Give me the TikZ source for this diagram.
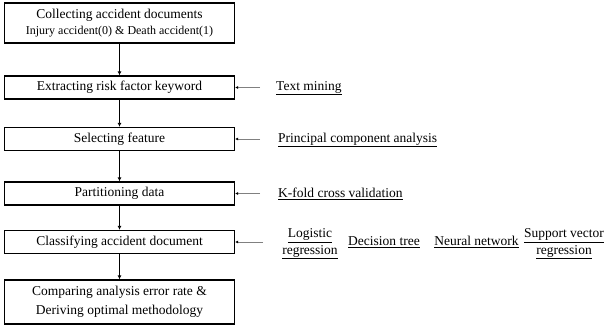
\documentclass[tikz,border=0pt]{standalone}
\usepackage{fontspec}
\setmainfont{Liberation Serif}
\usetikzlibrary{positioning,arrows.meta}

\begin{document}
\begin{tikzpicture}[x=1pt,y=1pt,
    box/.style={draw,line width=1.2pt,minimum width=230pt,minimum height=23pt,
      inner sep=2pt,align=center,font=\rmfamily\fontsize{13.5}{18.5}\selectfont},
    flow/.style={line width=1.5pt,-{Latex[length=4pt,width=4pt]}},
    side/.style={gray,line width=0.8pt,-{Latex[black,length=3pt,width=3pt]}},
    lbl/.style={inner sep=0pt,align=center,font=\rmfamily\fontsize{13.5}{16.5}\selectfont}]
    \useasboundingbox (0,0) rectangle (605,-326);

    % Main steps
    \node[box,minimum height=40pt] (collect) at (119.5,-23)
      {Collecting accident documents\\[-3pt]{\fontsize{12}{14}\selectfont Injury accident(0) \& Death accident(1)}};
    \node[box] (extract) at (119.5,-87.5) {Extracting risk factor keyword};
    \node[box] (select) at (119.5,-139) {Selecting feature};
    \node[box] (partition) at (119.5,-193.5) {Partitioning data};
    \node[box] (classify) at (119.5,-242) {Classifying accident document};
    \node[box,minimum height=44pt] (compare) at (119.5,-302)
      {Comparing analysis error rate \&\\Deriving optimal methodology};

    % Methods
    \node[lbl,anchor=west] (textmining) at (276,-88) {\underline{Text mining}};
    \node[lbl,anchor=west] (pca) at (278,-140) {\underline{Principal component analysis}};
    \node[lbl,anchor=west] (kfold) at (278,-194) {\underline{K-fold cross validation}};
    \node[lbl] (logistic) at (310,-244) {\underline{Logistic}\\\underline{regression}};
    \node[lbl] (dtree) at (384,-242) {\underline{Decision tree}};
    \node[lbl] (neural) at (476.5,-242) {\underline{Neural network}};
    \node[lbl] (svr) at (564,-244) {\underline{Support vector}\\\underline{regression}};

    % Flow
    \draw[flow] (collect) -- (extract);
    \draw[flow] (extract) -- (select);
    \draw[flow] (select) -- (partition);
    \draw[flow] (partition) -- (classify);
    \draw[flow] (classify) -- (compare);

    % Inputs
    \draw[side] ([xshift=-16pt]extract.east -| textmining.west) -- (extract.east);
    \draw[side] ([xshift=-18pt]select.east -| pca.west) -- (select.east);
    \draw[side] ([xshift=-18pt]partition.east -| kfold.west) -- (partition.east);
    \draw[side] ([xshift=-19pt]classify.east -| logistic.west) -- (classify.east);
\end{tikzpicture}
\end{document}
